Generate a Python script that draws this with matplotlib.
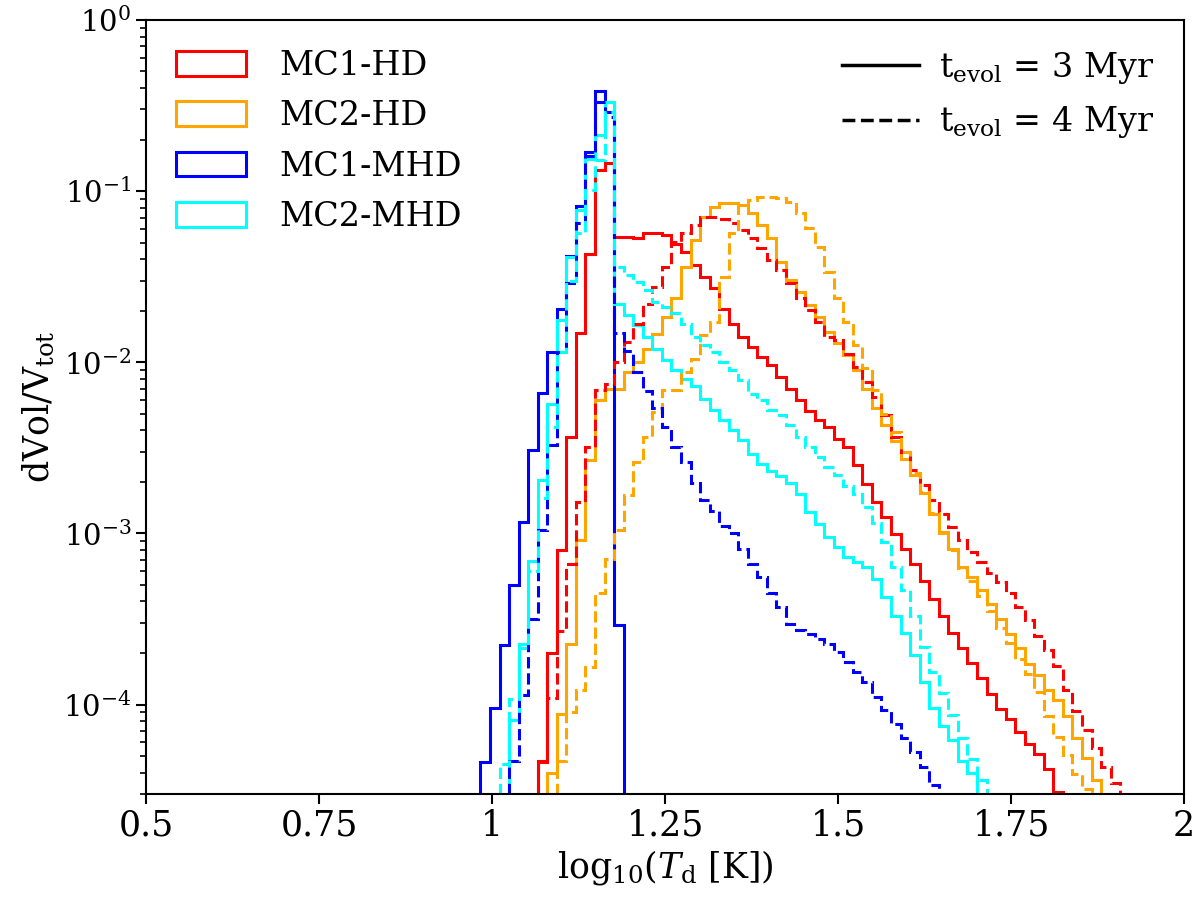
import numpy as np
import matplotlib.pyplot as plt
from matplotlib.patches import Patch
from matplotlib.lines import Line2D

plt.rcParams['font.family'] = 'DejaVu Serif'
plt.rcParams['mathtext.fontset'] = 'dejavuserif'

# histogram grid in log10(T_d)
bin_lo = 0.997
bin_w = 0.0138

labels = ['MC1-HD', 'MC2-HD', 'MC1-MHD', 'MC2-MHD']
colors = ['red', 'orange', 'blue', 'cyan']

# first bin index + dVol/Vtot per bin, t_evol = 3 Myr
mc1_hd_3_start = 5
mc1_hd_3 = [4.7e-5, 2.0e-4, 8.0e-4, 3.66e-3, 1.48e-2, 4.3e-2, 0.133, 0.146, 0.054, 0.054,
            0.053, 0.0566, 0.0571, 0.0553, 0.0494, 0.0442, 0.0369, 0.0315, 0.027, 0.0206,
            0.0168, 0.0141, 0.0123, 0.0107, 9.6e-3, 8.2e-3, 7.0e-3, 6.0e-3, 5.2e-3, 4.6e-3,
            4.2e-3, 3.58e-3, 3.2e-3, 2.5e-3, 1.95e-3, 1.52e-3, 1.25e-3, 9.96e-4, 8.1e-4, 6.65e-4,
            5.3e-4, 4.15e-4, 3.3e-4, 2.62e-4, 2.13e-4, 1.75e-4, 1.43e-4, 1.15e-4, 9.4e-5, 8.2e-5,
            6.9e-5, 5.9e-5, 5.15e-5, 4.2e-5, 3.1e-5]

mc2_hd_3_start = 6
mc2_hd_3 = [4.0e-5, 8.8e-5, 2.26e-4, 9.1e-4, 2.67e-3, 6.05e-3, 7.0e-3, 7.0e-3, 8.8e-3, 0.010,
            0.012, 0.0147, 0.0184, 0.0236, 0.0361, 0.0517, 0.0707, 0.081, 0.0847, 0.0847,
            0.0828, 0.074, 0.0633, 0.0529, 0.0386, 0.0302, 0.0258, 0.0216, 0.0184, 0.015,
            0.0129, 0.011, 8.98e-3, 7.0e-3, 5.4e-3, 4.28e-3, 3.45e-3, 2.73e-3, 2.18e-3, 1.71e-3,
            1.30e-3, 1.02e-3, 8.1e-4, 6.35e-4, 5.55e-4, 4.64e-4, 3.85e-4, 3.17e-4, 2.59e-4, 2.14e-4,
            1.73e-4, 1.48e-4, 1.21e-4, 1.06e-4, 8.6e-5, 6.4e-5, 4.9e-5, 3.6e-5]

mc1_mhd_3_start = -1
mc1_mhd_3 = [4.6e-5, 9.5e-5, 2.23e-4, 5.0e-4, 1.17e-3, 3.06e-3, 6.6e-3, 0.0115, 0.0206, 0.042,
             0.082, 0.17, 0.386, 0.288, 2.9e-4]

mc2_mhd_3_start = 2
mc2_mhd_3 = [8.1e-5, 2.26e-4, 6.9e-4, 2.04e-3, 5.73e-3, 0.0176, 0.0413, 0.0774, 0.155, 0.213,
             0.33, 0.022, 0.0188, 0.0165, 0.0141, 0.012, 0.0103, 8.98e-3, 8.0e-3, 7.3e-3,
             6.1e-3, 5.24e-3, 4.6e-3, 4.0e-3, 3.5e-3, 2.92e-3, 2.55e-3, 2.3e-3, 2.15e-3, 1.98e-3,
             1.7e-3, 1.33e-3, 1.14e-3, 9.5e-4, 8.3e-4, 7.3e-4, 6.8e-4, 6.35e-4, 5.4e-4, 4.25e-4,
             3.3e-4, 2.6e-4, 1.94e-4, 1.35e-4, 9.6e-5, 7.5e-5, 6.2e-5, 4.7e-5, 4.0e-5]

# t_evol = 4 Myr
mc1_hd_4_start = 5
mc1_hd_4 = [4.6e-5, 1.09e-4, 2.7e-4, 6.65e-4, 1.52e-3, 3.2e-3, 6.9e-3, 7.5e-3, 0.010, 0.0131,
            0.0168, 0.0218, 0.0276, 0.036, 0.0505, 0.0566, 0.0633, 0.0707, 0.071, 0.069,
            0.0648, 0.059, 0.0529, 0.0462, 0.0395, 0.0345, 0.0289, 0.0236, 0.0201, 0.0172,
            0.0141, 0.0134, 0.0112, 9.4e-3, 7.7e-3, 6.3e-3, 4.9e-3, 3.66e-3, 2.99e-3, 2.34e-3,
            1.91e-3, 1.56e-3, 1.30e-3, 1.09e-3, 9.1e-4, 7.8e-4, 6.8e-4, 5.9e-4, 5.2e-4, 4.5e-4,
            3.7e-4, 3.1e-4, 2.5e-4, 2.07e-4, 1.69e-4, 1.21e-4, 9.2e-5, 7.05e-5, 5.6e-5, 4.3e-5,
            3.47e-5]

mc2_hd_4_start = 7
mc2_hd_4 = [4.7e-5, 9.0e-5, 1.21e-4, 1.65e-4, 4.5e-4, 7.1e-4, 1.04e-3, 1.67e-3, 2.61e-3, 3.66e-3,
            5.1e-3, 6.9e-3, 6.9e-3, 8.8e-3, 0.0105, 0.0144, 0.0172, 0.0315, 0.0566, 0.0828,
            0.0886, 0.0927, 0.0927, 0.0906, 0.086, 0.074, 0.0605, 0.0473, 0.0337, 0.0236,
            0.0172, 0.0126, 9.2e-3, 6.9e-3, 5.0e-3, 3.9e-3, 3.0e-3, 2.25e-3, 1.75e-3, 1.32e-3,
            1.0e-3, 8.0e-4, 6.3e-4, 5.3e-4, 4.3e-4, 3.5e-4, 2.8e-4, 2.3e-4, 1.85e-4, 1.5e-4,
            1.18e-4, 8.6e-5, 6.5e-5, 5.1e-5, 3.9e-5, 3.2e-5]

mc1_mhd_4_start = 2
mc1_mhd_4 = [4.7e-5, 1.14e-4, 3.15e-4, 1.04e-3, 3.3e-3, 0.0115, 0.029, 0.065, 0.16, 0.33,
             0.27, 0.0148, 0.0116, 8.8e-3, 6.8e-3, 5.4e-3, 4.2e-3, 3.2e-3, 2.6e-3, 1.97e-3,
             1.56e-3, 1.35e-3, 1.1e-3, 1.0e-3, 8.1e-4, 6.65e-4, 5.55e-4, 4.5e-4, 3.7e-4, 2.96e-4,
             2.71e-4, 2.59e-4, 2.42e-4, 2.26e-4, 2.02e-4, 1.77e-4, 1.55e-4, 1.35e-4, 1.1e-4, 9.3e-5,
             7.7e-5, 6.4e-5, 5.3e-5, 4.3e-5, 3.4e-5]

mc2_mhd_4_start = 1
mc2_mhd_4 = [4.5e-5, 1.07e-4, 2.14e-4, 6.0e-4, 1.6e-3, 4.2e-3, 0.0115, 0.03, 0.0566, 0.101,
             0.152, 0.29, 0.0361, 0.0323, 0.0295, 0.0264, 0.0225, 0.0211, 0.0193, 0.0168,
             0.0141, 0.0126, 0.0115, 0.010, 8.98e-3, 7.85e-3, 6.56e-3, 6.0e-3, 5.24e-3, 4.9e-3,
             4.28e-3, 3.66e-3, 3.2e-3, 2.8e-3, 2.44e-3, 2.18e-3, 1.9e-3, 1.7e-3, 1.43e-3, 1.15e-3,
             8.9e-4, 6.35e-4, 4.64e-4, 3.3e-4, 2.16e-4, 1.55e-4, 1.16e-4, 8.7e-5, 6.4e-5, 4.8e-5,
             3.6e-5]

runs_3 = [(mc1_hd_3_start, mc1_hd_3), (mc2_hd_3_start, mc2_hd_3),
          (mc1_mhd_3_start, mc1_mhd_3), (mc2_mhd_3_start, mc2_mhd_3)]
runs_4 = [(mc1_hd_4_start, mc1_hd_4), (mc2_hd_4_start, mc2_hd_4),
          (mc1_mhd_4_start, mc1_mhd_4), (mc2_mhd_4_start, mc2_mhd_4)]


def draw(ax, start, vals, color, ls):
    edges = bin_lo + bin_w * np.arange(start, start + len(vals) + 1)
    ax.stairs(vals, edges, baseline=1e-9, color=color, linestyle=ls, linewidth=2.2)


fig = plt.figure(figsize=(12, 9.07), dpi=100)
ax = fig.add_axes([0.1217, 0.1246, 0.865, 0.8534])

for (start, vals), c in zip(runs_3, colors):
    draw(ax, start, vals, c, '-')
for (start, vals), c in zip(runs_4, colors):
    draw(ax, start, vals, c, '--')

ax.set_yscale('log')
ax.set_xlim(0.5, 2)
ax.set_ylim(3e-5, 1)
ax.set_xticks([0.5, 0.75, 1, 1.25, 1.5, 1.75, 2])
ax.set_xticklabels(['0.5', '0.75', '1', '1.25', '1.5', '1.75', '2'])
ax.tick_params(which='major', length=7, width=1.5)
ax.tick_params(which='minor', length=4, width=1.2)
ax.tick_params(axis='x', labelsize=25)
ax.tick_params(axis='y', labelsize=21)
for s in ax.spines.values():
    s.set_linewidth(1.5)

ax.set_xlabel(r'$\mathrm{log}_{10}(T_{\rm d}\ [\rm K])$', fontsize=25)
ax.set_ylabel(r'dVol/V$_{\rm tot}$', fontsize=25)

h1 = [Patch(facecolor='none', edgecolor=c, linewidth=2.2) for c in colors]
leg1 = ax.legend(h1, labels, loc='upper left', frameon=False, fontsize=24,
                 handlelength=2.1, handleheight=0.75, handletextpad=1.0, labelspacing=0.55)
ax.add_artist(leg1)

h2 = [Line2D([], [], color='k', lw=2.5, ls='-'), Line2D([], [], color='k', lw=2.5, ls='--')]
ax.legend(h2, [r'$\rm t_{evol}$ = 3 Myr', r'$\rm t_{evol}$ = 4 Myr'], loc='upper right',
          frameon=False, fontsize=24, handlelength=2.3, handletextpad=0.6, labelspacing=0.55)

fig.savefig('out.png', dpi=100)
